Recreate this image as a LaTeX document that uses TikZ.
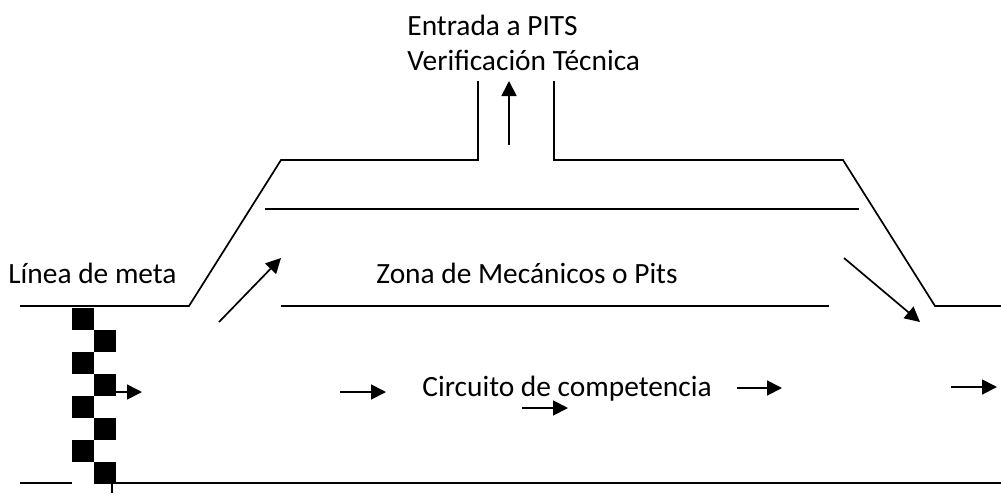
\documentclass[tikz,border=0pt]{standalone}
\usepackage{fontspec}
\setmainfont{Carlito}
\usetikzlibrary{arrows.meta, positioning}

\begin{document}
\begin{tikzpicture}[
    x=0.5pt,
    y=-0.5pt,
    track/.style={
        draw=black,
        line width=0.85pt,
        line join=miter
    },
    flow/.style={
        -{Triangle[length=7.5pt,width=7.5pt]},
        line width=0.85pt,
        color=black
    },
    label/.style={
        anchor=base west,
        inner sep=0pt,
        font=\fontsize{14.7}{18}\selectfont
    },
    flag/.style={
        rectangle,
        fill=black,
        inner sep=0pt,
        minimum width=11pt,
        minimum height=11pt
    }
]
\useasboundingbox (0,0) rectangle (1001,493);

% Outer edge of the track with the pit lane
\coordinate (topa) at (20,306);
\coordinate (topb) at (189,306);
\coordinate (topc) at (281,160);
\coordinate (topd) at (478,160);
\coordinate (tope) at (478,81);
\coordinate (topf) at (554,81);
\coordinate (topg) at (554,160);
\coordinate (toph) at (843,160);
\coordinate (topi) at (935,306);
\coordinate (topj) at (1001,306);
\draw[track] (topa) -- (topb) -- (topc) -- (topd) -- (tope);
\draw[track] (topf) -- (topg) -- (toph) -- (topi) -- (topj);

% Pit zone walls
\coordinate (wallaw) at (265,209);
\coordinate (wallae) at (859,209);
\coordinate (wallbw) at (281,306);
\coordinate (wallbe) at (829,306);
\draw[track] (wallaw) -- (wallae);
\draw[track] (wallbw) -- (wallbe);

% Bottom edge of the track
\coordinate (bota) at (20,483);
\coordinate (botb) at (72,483);
\coordinate (botc) at (112,483);
\coordinate (botd) at (1001,483);
\coordinate (tick) at (112,493);
\draw[track] (bota) -- (botb);
\draw[track] (botc) -- (botd);
\draw[track] (botc) -- (tick);

% Finish line
\foreach \row/\xpos in {0/83, 1/104.5, 2/83, 3/104.5, 4/83, 5/104.5, 6/83, 7/104.5} {
    \node[flag] (flag\row) at (\xpos,{319+22*\row}) {};
}

% Direction arrows
\coordinate (ina) at (219,322);
\coordinate (inb) at (281,258);
\coordinate (outa) at (844,258);
\coordinate (outb) at (920,322);
\coordinate (upa) at (509,145);
\coordinate (upb) at (509,81);
\draw[flow] (ina) -- (inb);
\draw[flow] (outa) -- (outb);
\draw[flow] (upa) -- (upb);

\foreach \name/\xa/\xb/\ypos in {a/115/142/392, b/340/386/392, c/522/568/408, d/737/782/388, e/951/997/387} {
    \coordinate (flow\name s) at (\xa,\ypos);
    \coordinate (flow\name) at (\xb,\ypos);
    \draw[flow] (flow\name s) -- (flow\name);
}

% Labels
\node[label] (entrada) at (407,35) {Entrada a PITS};
\node[label] (verif) at (407,70) {Verificación Técnica};
\node[label] (meta) at (8,283) {Línea de meta};
\node[label] (zona) at (376,283) {Zona de Mecánicos o Pits};
\node[label] (circuito) at (422,396) {Circuito de competencia};

\end{tikzpicture}
\end{document}
